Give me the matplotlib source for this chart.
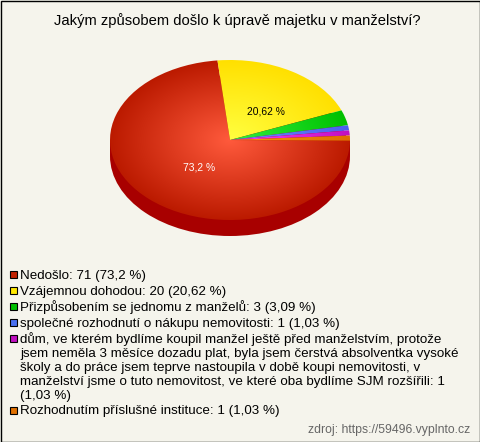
import numpy as np
import matplotlib
matplotlib.use("Agg")
import matplotlib.pyplot as plt
from matplotlib.colors import LinearSegmentedColormap
from matplotlib.patches import Ellipse, Rectangle
from matplotlib.transforms import Affine2D

title = "Jakým způsobem došlo k úpravě majetku v manželství?"
categories = ["Nedošlo", "Vzájemnou dohodou", "Přizpůsobením se jednomu z manželů",
              "společné rozhodnutí o nákupu nemovitosti",
              "dům, ve kterém bydlíme koupil manžel ještě před manželstvím, protože\n"
              "jsem neměla 3 měsíce dozadu plat, byla jsem čerstvá absolventka vysoké\n"
              "školy a do práce jsem teprve nastoupila v době koupi nemovitosti, v\n"
              "manželství jsme o tuto nemovitost, ve které oba bydlíme SJM rozšířili: 1\n"
              "(1,03 %)",
              "Rozhodnutím příslušné instituce"]
counts = [71, 20, 3, 1, 1, 1]
percents = ["73,2", "20,62", "3,09", "1,03", "1,03", "1,03"]
inner = ["#ff5a3c", "#ffff40", "#30f040", "#6a8cff", "#ff40ff", "#ff9010"]
outer = ["#bb1a00", "#ffe000", "#00c000", "#4a60f0", "#c010c0", "#e07000"]
legend_c = ["#c02000", "#ffe800", "#00c000", "#4a70f0", "#c010c0", "#e07000"]
side_color = "#a80000"

W, H = 480, 442
fig = plt.figure(figsize=(W/100, H/100), dpi=100, facecolor="#f5f4ec")
plt.rcParams["font.family"] = ["Liberation Sans", "DejaVu Sans"]
ax = fig.add_axes([0, 0, 1, 1])

cx, cy, rx, ry, depth = 230, 140, 120, 80, 16

wedges, _ = ax.pie(counts, startangle=-0.5, counterclock=False, center=(cx, cy), radius=1)
ax.set_aspect("auto")
ax.set_xlim(0, W); ax.set_ylim(H, 0)
ax.axis("off")

ax.add_patch(Rectangle((cx-rx, cy), 2*rx, depth, fc=side_color, ec="none", zorder=1))
ax.add_patch(Ellipse((cx, cy+depth), 2*rx, 2*ry, fc=side_color, ec="none", zorder=1))

yy, xx = np.mgrid[-1:1:400j, -1:1:400j]
rr = np.clip(np.hypot(xx, yy), 0, 1)
for w, a, b in zip(wedges, inner, outer):
    w.set_visible(False)
    cmap = LinearSegmentedColormap.from_list("g", [a, b])
    im = ax.imshow(rr, extent=(cx-rx, cx+rx, cy+ry, cy-ry), cmap=cmap, vmin=0, vmax=1,
                   origin="upper", aspect="auto", zorder=2, interpolation="bilinear")
    im.set_clip_path(w.get_path(), w.get_patch_transform()
                     + Affine2D().translate(-cx, -cy).scale(rx, -ry).translate(cx, cy)
                     + ax.transData)
ax.set_xlim(0, W); ax.set_ylim(H, 0)

ax.text(199, 168, f"{percents[0]} %", color="white", fontsize=7.4, ha="center", va="center", zorder=3)
ax.text(265.5, 111, f"{percents[1]} %", color="black", fontsize=7.4, ha="center", va="center", zorder=3)

ax.text(237, 21, title, fontsize=10.6, ha="center", va="center", color="black")

fs = 9.6
y = 274.5
for cat, c, p, col in zip(categories, counts, percents, legend_c):
    ax.add_patch(Rectangle((9.5, y-3.5), 7, 7, fc=col, ec="black", lw=0.8, zorder=3))
    if "\n" in cat:
        lines = cat.split("\n")
        for i, ln in enumerate(lines):
            ax.text(20, y + i*14 + 1, ln, fontsize=fs, va="center", ha="left", color="black")
        y += 14 * len(lines) + 1.5
    else:
        ax.text(20, y + 1, f"{cat}: {c} ({p} %)", fontsize=fs, va="center", ha="left", color="black")
        y += 16

ax.text(470, 429.5, "zdroj: https://59496.vyplnto.cz", fontsize=8.8, ha="right", va="center", color="#666666")

ax.add_patch(Rectangle((0.5, 0.5), W-1, H-1, fc="none", ec="black", lw=1, zorder=5))
fig.savefig("out.png", dpi=100, facecolor=fig.get_facecolor())
